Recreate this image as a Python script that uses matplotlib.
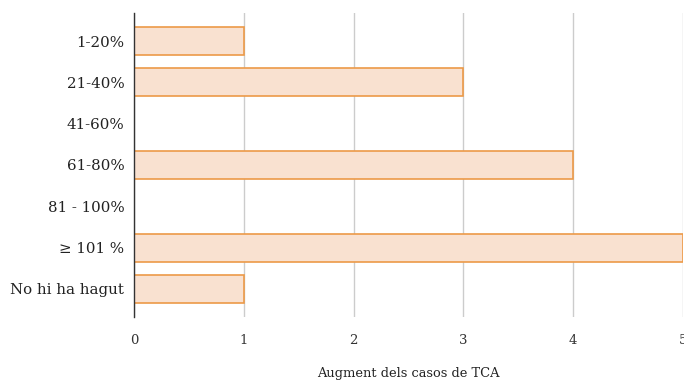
import matplotlib
matplotlib.use("Agg")
import matplotlib.pyplot as plt

categories = ["1-20%", "21-40%", "41-60%", "61-80%", "81 - 100%", "≥ 101 %", "No hi ha hagut"]
values = [1, 3, 0, 4, 0, 5, 1]
xticks = [0, 1, 2, 3, 4, 5]
xlabel = "Augment dels casos de TCA"

plt.rcParams["font.family"] = ["DejaVu Serif"]

fig = plt.figure(figsize=(6.84, 3.81), dpi=100)
ax = fig.add_axes([134 / 684, 1 - 317 / 381, (683 - 134) / 684, (317 - 13) / 381])

ypos = list(range(len(categories)))
ax.barh(ypos, values, height=0.68, color="#F9E1D0", edgecolor="#EC9A48",
        linewidth=1.2, zorder=3)

ax.set_xlim(0, 5)
ax.set_ylim(6.68, -0.68)
ax.set_xticks(xticks)
ax.set_xticklabels([str(t) for t in xticks], fontsize=9.5, color="#333333")
ax.set_yticks(ypos)
ax.set_yticklabels(categories, fontsize=10.8, color="#222222")
ax.tick_params(axis="both", length=0)
ax.tick_params(axis="x", pad=12)
ax.tick_params(axis="y", pad=7)

ax.grid(axis="x", color="#CCCCCC", linewidth=1, zorder=0)
for side in ("top", "right", "bottom"):
    ax.spines[side].set_visible(False)
ax.spines["left"].set_color("#333333")
ax.spines["left"].set_linewidth(1)
ax.spines["left"].set_zorder(4)

fig.text((134 + 683) / 2 / 684, 1 - 373 / 381, xlabel, fontsize=9.4,
         color="#222222", ha="center", va="center")

fig.savefig("out.png", dpi=100)
